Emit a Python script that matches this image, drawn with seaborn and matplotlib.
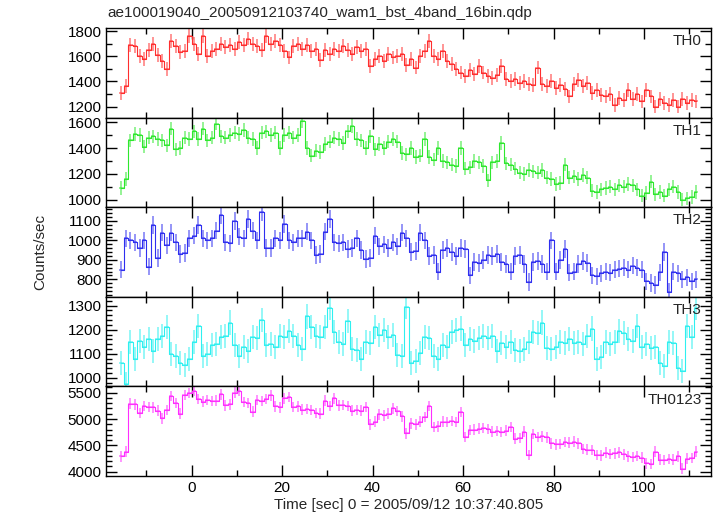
import numpy as np
import pandas as pd
import matplotlib
matplotlib.use("Agg")
import matplotlib.pyplot as plt
from matplotlib.ticker import MultipleLocator
import seaborn as sns

# 1-s bins, bin centres from -15.5 s to 111.5 s
time = np.arange(-15.5, 112.0, 1.0)

th0_rate = [
    1310, 1360, 1690, 1680, 1600, 1580, 1650, 1700, 1610, 1560,
    1500, 1720, 1680, 1630, 1640, 1760, 1700, 1620, 1760, 1600,
    1640, 1660, 1700, 1670, 1690, 1660, 1710, 1690, 1740, 1700,
    1680, 1650, 1760, 1700, 1720, 1690, 1640, 1590, 1680, 1700,
    1660, 1690, 1640, 1660, 1570, 1650, 1620, 1660, 1640, 1680,
    1650, 1620, 1670, 1640, 1660, 1520, 1580, 1600, 1560, 1620,
    1590, 1600, 1620, 1530, 1580, 1510, 1600, 1640, 1720, 1600,
    1580, 1640, 1560, 1540, 1500, 1470, 1440, 1490, 1460, 1520,
    1470, 1440, 1430, 1450, 1520, 1420, 1400, 1420, 1390, 1400,
    1380, 1370, 1510, 1380, 1360, 1400, 1350, 1370, 1340, 1280,
    1380, 1410, 1360, 1390, 1310, 1330, 1290, 1280, 1300, 1210,
    1270, 1250, 1330, 1260, 1300, 1240, 1330, 1280, 1200, 1260,
    1230, 1210, 1250, 1200, 1260, 1230, 1250, 1240,
]

th1_rate = [
    1090, 1160, 1460, 1510, 1500, 1410, 1480, 1490, 1470, 1460,
    1420, 1550, 1390, 1400, 1480, 1470, 1530, 1470, 1550, 1460,
    1480, 1590, 1490, 1480, 1500, 1520, 1510, 1540, 1480, 1470,
    1400, 1520, 1530, 1500, 1520, 1400, 1500, 1520, 1480, 1500,
    1610, 1400, 1340, 1380, 1370, 1430, 1450, 1480, 1470, 1440,
    1530, 1570, 1470, 1460, 1400, 1490, 1390, 1430, 1400, 1450,
    1470, 1450, 1360, 1350, 1400, 1330, 1340, 1470, 1330, 1310,
    1400, 1300, 1290, 1270, 1260, 1400, 1240, 1250, 1300, 1290,
    1260, 1150, 1290, 1300, 1440, 1280, 1270, 1240, 1210, 1200,
    1230, 1220, 1210, 1230, 1170, 1160, 1120, 1130, 1270, 1170,
    1180, 1160, 1190, 1170, 1070, 1060, 1080, 1090, 1100, 1080,
    1110, 1100, 1120, 1110, 1080, 1030, 1050, 1140, 1040, 1060,
    1030, 1080, 1100, 1060, 1000, 1010, 1020, 1060,
]

th2_rate = [
    850, 1010, 1000, 990, 960, 1000, 865, 1080, 910, 1040,
    975, 1040, 990, 930, 935, 1010, 1025, 1080, 1010, 1000,
    1010, 1050, 1130, 990, 985, 1100, 1020, 1010, 1110, 1050,
    1000, 1145, 960, 960, 1010, 1000, 1085, 1000, 990, 1010,
    1010, 1045, 1000, 925, 930, 1045, 1110, 990, 985, 990,
    955, 960, 1010, 950, 905, 910, 1025, 970, 980, 960,
    990, 970, 1040, 1010, 940, 945, 1040, 1000, 920, 925,
    840, 950, 960, 940, 920, 960, 955, 820, 890, 885,
    900, 925, 920, 930, 890, 880, 840, 920, 925, 880,
    785, 890, 895, 880, 840, 1000, 840, 900, 955, 835,
    840, 880, 895, 885, 820, 815, 830, 840, 835, 850,
    855, 860, 850, 870, 860, 850, 790, 780, 770, 836,
    940, 735, 840, 830, 800, 810, 790, 800,
]

th3_rate = [
    1060, 975, 1150, 1080, 1155, 1130, 1160, 1110, 1160, 1175,
    1210, 1100, 1090, 1060, 1055, 1080, 1150, 1215, 1090, 1100,
    1135, 1140, 1170, 1175, 1230, 1135, 1090, 1130, 1110, 1170,
    1165, 1240, 1135, 1140, 1130, 1175, 1170, 1195, 1175, 1135,
    1120, 1255, 1210, 1175, 1170, 1210, 1290, 1190, 1150, 1140,
    1235, 1120, 1115, 1080, 1150, 1145, 1210, 1180, 1200, 1170,
    1180, 1095, 1090, 1295, 1060, 1070, 1105, 1170, 1165, 1090,
    1080, 1135, 1130, 1190, 1200, 1205, 1135, 1160, 1155, 1165,
    1175, 1165, 1175, 1110, 1145, 1130, 1150, 1115, 1110, 1120,
    1150, 1190, 1185, 1230, 1125, 1120, 1130, 1150, 1145, 1160,
    1145, 1150, 1140, 1175, 1205, 1080, 1085, 1150, 1140, 1150,
    1195, 1185, 1160, 1155, 1215, 1130, 1140, 1125, 1130, 1060,
    1050, 1150, 1145, 1040, 1030, 1215, 1170, 1290,
]

th0123_rate = [
    4290, 4380, 5290, 5280, 5110, 5250, 5230, 5220, 5160, 5010,
    5170, 5440, 5300, 5100, 5460, 5490, 5540, 5380, 5330, 5360,
    5340, 5350, 5470, 5260, 5280, 5500, 5530, 5320, 5300, 5140,
    5360, 5340, 5380, 5450, 5240, 5220, 5390, 5420, 5230, 5240,
    5180, 5190, 5170, 5110, 5100, 5350, 5250, 5390, 5260, 5270,
    5250, 5160, 5170, 5160, 5230, 4900, 4950, 5090, 5070, 5100,
    5200, 5150, 5050, 4730, 4920, 4900, 4950, 5040, 5250, 4850,
    4860, 4950, 4940, 4960, 4940, 5130, 4660, 4790, 4800, 4820,
    4830, 4810, 4760, 4770, 4750, 4780, 4850, 4630, 4640, 4760,
    4320, 4720, 4660, 4670, 4650, 4540, 4520, 4530, 4560, 4550,
    4570, 4540, 4430, 4420, 4410, 4320, 4310, 4360, 4340, 4350,
    4370, 4330, 4290, 4280, 4300, 4270, 4160, 4150, 4380, 4230,
    4220, 4240, 4230, 4290, 4060, 4250, 4260, 4380,
]

panel_names = ["TH0", "TH1", "TH2", "TH3", "TH0123"]
rate_errors = [55, 52, 45, 50, 100]
panel_rates = [th0_rate, th1_rate, th2_rate, th3_rate, th0123_rate]

colors = ["#ff2e2e", "#2ee82e", "#2e2ef0", "#2ef0f0", "#ff2eff"]
ylims = [(1112, 1824), (941, 1636), (710, 1171), (964, 1337), (3919, 5619)]
ysteps = [(200, 100), (200, 100), (100, 20), (100, 20), (500, 100)]

sns.set_style("ticks")
plt.rcParams["font.family"] = ["Liberation Sans", "DejaVu Sans"]
fs = 11

fig = plt.figure(figsize=(7.17, 5.16), dpi=100)
axes = fig.subplots(5, 1, sharex=True, gridspec_kw=dict(hspace=0))
fig.subplots_adjust(left=0.1485, right=0.9916, top=1 - 28 / 516, bottom=1 - 476 / 516)

for ax, name, rate, err, c, ylim, (maj, mnr) in zip(
        axes, panel_names, panel_rates, rate_errors, colors, ylims, ysteps):
    df = pd.DataFrame({"time": time, "rate": rate})
    ax.errorbar(df["time"], df["rate"], xerr=0.5, yerr=err, fmt="none",
                ecolor=c, alpha=0.55, elinewidth=1.3)
    sns.lineplot(data=df, x="time", y="rate", drawstyle="steps-mid",
                 color=c, lw=0.8, ax=ax)
    ax.set_ylim(*ylim)
    ax.set_xlim(-18.8, 114.8)
    ax.yaxis.set_major_locator(MultipleLocator(maj))
    ax.yaxis.set_minor_locator(MultipleLocator(mnr))
    ax.xaxis.set_major_locator(MultipleLocator(20))
    ax.xaxis.set_minor_locator(MultipleLocator(10))
    ax.tick_params(which="both", direction="in", top=True, right=True,
                   width=1, colors="black", labelsize=fs)
    ax.tick_params(which="major", length=8)
    ax.tick_params(which="minor", length=4)
    for sp in ax.spines.values():
        sp.set_linewidth(1.0)
        sp.set_color("black")
    ax.set_ylabel("")
    ax.set_xlabel("")
    ax.text(0.985, 0.93, name, transform=ax.transAxes, ha="right", va="top",
            fontsize=fs)

axes[-1].set_xlabel("Time [sec] 0 = 2005/09/12 10:37:40.805", fontsize=fs,
                    labelpad=2)
fig.text(40 / 717, 0.512, "Counts/sec", rotation=90, ha="center", va="center",
         fontsize=fs)
fig.text(107 / 717, 1 - 13 / 516, "ae100019040_20050912103740_wam1_bst_4band_16bin.qdp",
         ha="left", va="center", fontsize=fs)

fig.savefig("out.png", dpi=100)
